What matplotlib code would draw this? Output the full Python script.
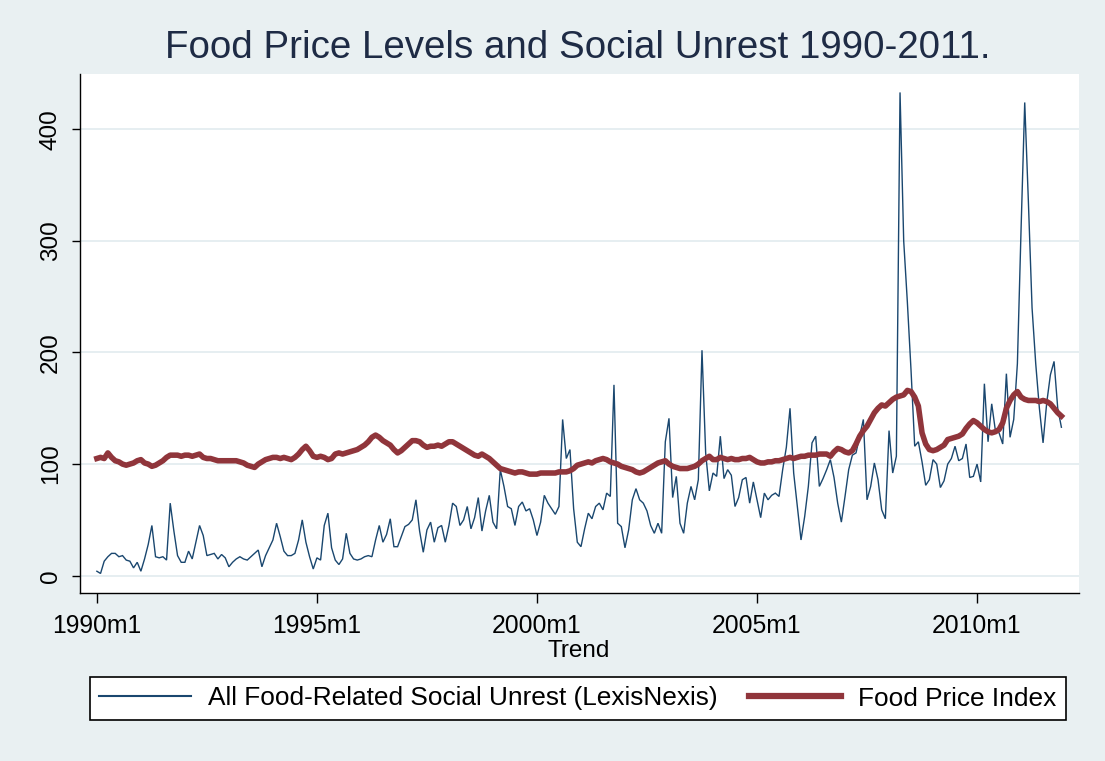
import numpy as np
import matplotlib
matplotlib.use("Agg")
import matplotlib.pyplot as plt
from matplotlib.lines import Line2D

plt.rcParams['font.family'] = ['Liberation Sans', 'DejaVu Sans']

start_year = 1990
n_years = 22

unrest_1990 = [4, 2, 13, 17, 20, 20, 17, 18, 14, 13, 7, 12]
unrest_1991 = [4, 15, 28, 45, 17, 16, 17, 14, 65, 40, 18, 12]
unrest_1992 = [12, 22, 15, 30, 45, 36, 18, 19, 20, 15, 19, 16]
unrest_1993 = [8, 12, 15, 17, 15, 14, 17, 20, 23, 8, 18, 25]
unrest_1994 = [32, 47, 35, 22, 18, 18, 20, 32, 50, 30, 17, 6]
unrest_1995 = [16, 14, 45, 56, 25, 14, 10, 15, 38, 20, 15, 14]
unrest_1996 = [15, 17, 18, 17, 32, 45, 30, 37, 51, 26, 26, 35]
unrest_1997 = [44, 46, 50, 68, 40, 21, 41, 48, 30, 43, 45, 30]
unrest_1998 = [45, 65, 62, 45, 50, 62, 42, 52, 70, 40, 58, 72]
unrest_1999 = [48, 42, 95, 80, 62, 60, 45, 62, 66, 58, 60, 50]
unrest_2000 = [36, 48, 72, 65, 60, 55, 62, 140, 105, 113, 60, 30]
unrest_2001 = [26, 42, 56, 51, 62, 65, 59, 74, 71, 171, 47, 44]
unrest_2002 = [25, 41, 68, 78, 68, 65, 58, 45, 38, 47, 38, 120]
unrest_2003 = [141, 70, 89, 47, 38, 65, 80, 68, 86, 202, 110, 76]
unrest_2004 = [92, 89, 125, 87, 95, 90, 62, 70, 86, 88, 65, 84]
unrest_2005 = [68, 52, 74, 68, 72, 74, 71, 95, 115, 150, 92, 62]
unrest_2006 = [32, 53, 80, 119, 125, 80, 87, 95, 104, 88, 65, 48]
unrest_2007 = [71, 95, 108, 110, 125, 140, 68, 80, 101, 86, 59, 51]
unrest_2008 = [130, 92, 107, 433, 300, 245, 184, 116, 120, 102, 81, 86]
unrest_2009 = [104, 100, 79, 85, 100, 105, 116, 103, 105, 118, 88, 89]
unrest_2010 = [100, 84, 172, 120, 154, 130, 128, 118, 181, 124, 140, 190]
unrest_2011 = [310, 424, 335, 240, 190, 150, 119, 155, 180, 192, 150, 133]

fpi_1990 = [105, 106, 105, 110, 106, 103, 102, 100, 99, 100, 101, 103]
fpi_1991 = [104, 101, 100, 98, 99, 101, 103, 106, 108, 108, 108, 107]
fpi_1992 = [108, 108, 107, 108, 109, 106, 105, 105, 104, 103, 103, 103]
fpi_1993 = [103, 103, 103, 102, 101, 99, 98, 97, 100, 102, 104, 105]
fpi_1994 = [106, 106, 105, 106, 105, 104, 106, 109, 113, 116, 112, 107]
fpi_1995 = [106, 107, 106, 104, 105, 109, 110, 109, 110, 111, 112, 113]
fpi_1996 = [115, 117, 120, 124, 126, 124, 121, 119, 117, 113, 110, 112]
fpi_1997 = [115, 118, 121, 121, 120, 117, 115, 116, 116, 117, 116, 118]
fpi_1998 = [120, 120, 118, 116, 114, 112, 110, 108, 107, 109, 107, 105]
fpi_1999 = [102, 99, 96, 95, 94, 93, 92, 93, 93, 92, 91, 91]
fpi_2000 = [91, 92, 92, 92, 92, 92, 93, 93, 93, 94, 96, 99]
fpi_2001 = [100, 101, 102, 101, 103, 104, 105, 104, 102, 101, 100, 98]
fpi_2002 = [97, 96, 95, 93, 92, 93, 95, 97, 99, 101, 102, 103]
fpi_2003 = [100, 98, 97, 96, 96, 96, 97, 98, 100, 103, 105, 107]
fpi_2004 = [104, 104, 106, 105, 104, 105, 104, 104, 105, 105, 106, 104]
fpi_2005 = [102, 101, 101, 102, 102, 103, 103, 104, 105, 106, 105, 106]
fpi_2006 = [107, 107, 108, 108, 108, 109, 109, 109, 107, 111, 114, 113]
fpi_2007 = [111, 110, 112, 118, 125, 130, 134, 140, 146, 150, 153, 152]
fpi_2008 = [155, 158, 160, 161, 162, 166, 165, 160, 152, 128, 118, 113]
fpi_2009 = [112, 113, 115, 117, 122, 123, 124, 125, 127, 132, 136, 139]
fpi_2010 = [137, 134, 131, 129, 128, 129, 131, 137, 150, 157, 162, 165]
fpi_2011 = [160, 158, 157, 157, 157, 156, 157, 156, 154, 150, 146, 143]

unrest = np.concatenate([unrest_1990, unrest_1991, unrest_1992, unrest_1993, unrest_1994,
                         unrest_1995, unrest_1996, unrest_1997, unrest_1998, unrest_1999,
                         unrest_2000, unrest_2001, unrest_2002, unrest_2003, unrest_2004,
                         unrest_2005, unrest_2006, unrest_2007, unrest_2008, unrest_2009,
                         unrest_2010, unrest_2011])
fpi = np.concatenate([fpi_1990, fpi_1991, fpi_1992, fpi_1993, fpi_1994, fpi_1995, fpi_1996,
                      fpi_1997, fpi_1998, fpi_1999, fpi_2000, fpi_2001, fpi_2002, fpi_2003,
                      fpi_2004, fpi_2005, fpi_2006, fpi_2007, fpi_2008, fpi_2009, fpi_2010,
                      fpi_2011])
months = np.arange(len(unrest))  # months since 1990m1

x_tick_years = [1990, 1995, 2000, 2005, 2010]
x_tick_labels = ["1990m1", "1995m1", "2000m1", "2005m1", "2010m1"]
y_ticks = [0, 100, 200, 300, 400]

title = "Food Price Levels and Social Unrest 1990-2011."
xlabel = "Trend"
label_unrest = "All Food-Related Social Unrest (LexisNexis)"
label_fpi = "Food Price Index"

bg = '#e9f0f2'
blue = '#1a476f'
red = '#90353b'
txt = '#1e2b45'

W, H = 1105, 761
fig = plt.figure(figsize=(W / 100, H / 100), dpi=100, facecolor=bg)
ax = fig.add_axes([80 / W, 1 - 593 / H, (1079 - 80) / W, (593 - 74) / H])
ax.set_facecolor('white')

ax.plot(months, unrest, color=blue, lw=1.0, zorder=3, solid_joinstyle='miter')
ax.plot(months, fpi, color=red, lw=4.0, zorder=4)

ax.set_xlim(-4.6, 267.8)
ax.set_ylim(-15.5, 449.5)

ax.set_yticks(y_ticks)
ax.set_yticklabels([str(v) for v in y_ticks], rotation=90, va='center', fontsize=17.5, color='black')
ax.set_xticks([(y - start_year) * 12 for y in x_tick_years])
ax.set_xticklabels(x_tick_labels, fontsize=17.8, color='black')
ax.tick_params(axis='y', length=6, width=1, pad=7)
ax.tick_params(axis='x', length=7, width=1, pad=8)

ax.grid(axis='y', color='#e4edf0', lw=1.3, zorder=0)
ax.set_axisbelow(True)
for s in ['top', 'right']:
    ax.spines[s].set_visible(False)
for s in ['left', 'bottom']:
    ax.spines[s].set_color('black')
    ax.spines[s].set_linewidth(1.0)

fig.text(578 / W, 1 - 48 / H, title, ha='center', va='center', fontsize=27.7, color=txt)
fig.text(579 / W, 1 - 651 / H, xlabel, ha='center', va='center', fontsize=17.5, color='black')

handles = [Line2D([], [], color=blue, lw=1.5), Line2D([], [], color=red, lw=4.5)]
leg = fig.legend(handles, [label_unrest, label_fpi], ncol=2, loc='center',
                 bbox_to_anchor=(578 / W, 1 - 698.5 / H), fontsize=18.9, frameon=True,
                 fancybox=False, edgecolor='black', facecolor='white', framealpha=1,
                 handlelength=3.5, handletextpad=0.65, columnspacing=1.2, borderpad=0.35)
leg.get_frame().set_linewidth(1.2)

fig.savefig('out.png', dpi=100, facecolor=bg)
